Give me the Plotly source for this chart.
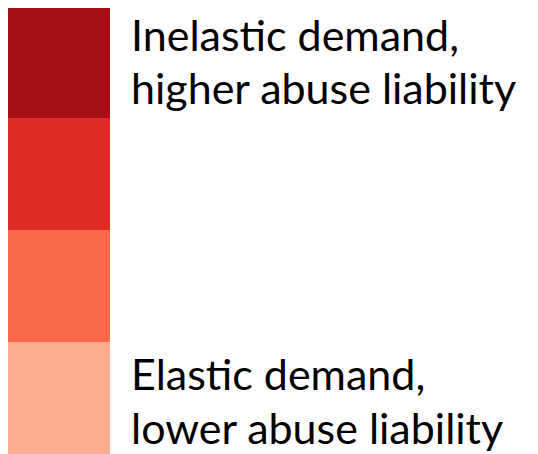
import plotly.graph_objects as go

levels = ["Elastic", "Moderately elastic", "Moderately inelastic", "Inelastic"]
values = [1, 1, 1, 1]
colors = ["#FCAE91", "#FB6A4A", "#DE2D26", "#A50F15"]
top_label = ["Inelastic demand,", "higher abuse liability"]
bottom_label = ["Elastic demand,", "lower abuse liability"]

fig = go.Figure()
for lv, v, c in zip(levels, values, colors):
    fig.add_trace(go.Bar(x=[0.5], y=[v], width=1, name=lv, marker=dict(color=c, line=dict(width=0)),
                         hoverinfo="name"))

# page body has an 8px margin, so the figure itself is 530x446
W, H = 530, 446
px_per_x = 102.0
px_per_y = 112.0
fig.update_layout(
    barmode="stack", width=W, height=H, margin=dict(l=0, r=0, t=0, b=0),
    paper_bgcolor="white", plot_bgcolor="white", showlegend=False, bargap=0,
    xaxis=dict(range=[0, W / px_per_x], visible=False, fixedrange=True),
    yaxis=dict(range=[0, H / px_per_y], visible=False, fixedrange=True),
)

font = dict(family="Lato, sans-serif", size=43, color="black")
def add_line(text, y_center_px):
    fig.add_annotation(text=text, x=121 / W, y=1 - y_center_px / H, xref="paper", yref="paper",
                       xanchor="left", yanchor="middle", showarrow=False, font=font)

add_line(top_label[0], 27)
add_line(top_label[1], 80)
add_line(bottom_label[0], 365)
add_line(bottom_label[1], 419)

fig.write_html("out.html")
